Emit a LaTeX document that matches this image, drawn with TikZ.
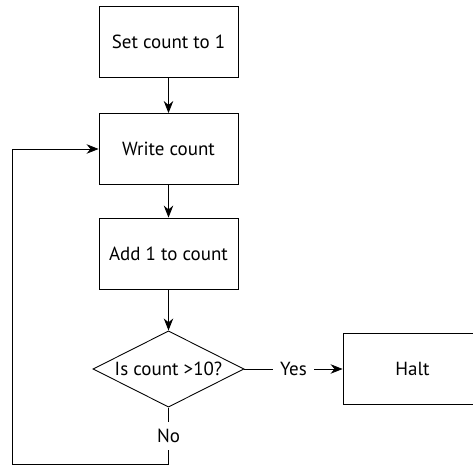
\documentclass[tikz,border=0pt]{standalone}
\usepackage{fontspec}
\setmainfont{PT Sans}
\usetikzlibrary{shapes.geometric,arrows.meta}

\begin{document}
\begin{tikzpicture}[
    font=\fontsize{10.8}{13}\selectfont,
    every path/.style={line width=0.5pt},
    process/.style={draw, rectangle, minimum width=2.78cm, minimum height=1.42cm, inner sep=0pt},
    decision/.style={draw, diamond, aspect=1.72, minimum width=3.02cm, inner sep=0pt},
    flow/.style={-{Stealth[length=2.4mm,width=1.9mm]}},
    answer/.style={fill=white, inner sep=4pt}
  ]
    \useasboundingbox (0,0) rectangle (9.46,-9.30);

    % Steps
    \node[process] (set) at (3.37,-0.83) {Set count to 1};
    \node[process] (write) at (3.37,-2.98) {Write count};
    \node[process] (add) at (3.37,-5.07) {Add 1 to count};
    \node[decision] (test) at (3.37,-7.38) {Is count >10?};
    \node[process] (halt) at (8.25,-7.38) {Halt};

    % Loop corners
    \coordinate (down) at (3.37,-9.28);
    \coordinate (back) at (0.24,-9.28);
    \coordinate (up) at (0.24,-2.98);

    % Arrows
    \draw[flow] (set) -- (write);
    \draw[flow] (write) -- (add);
    \draw[flow] (add) -- (test);
    \draw[flow] (test) -- node[answer] {Yes} (halt);
    \draw[flow] (test) -- node[answer] {No} (down) -- (back) -- (up) -- (write);
\end{tikzpicture}
\end{document}
